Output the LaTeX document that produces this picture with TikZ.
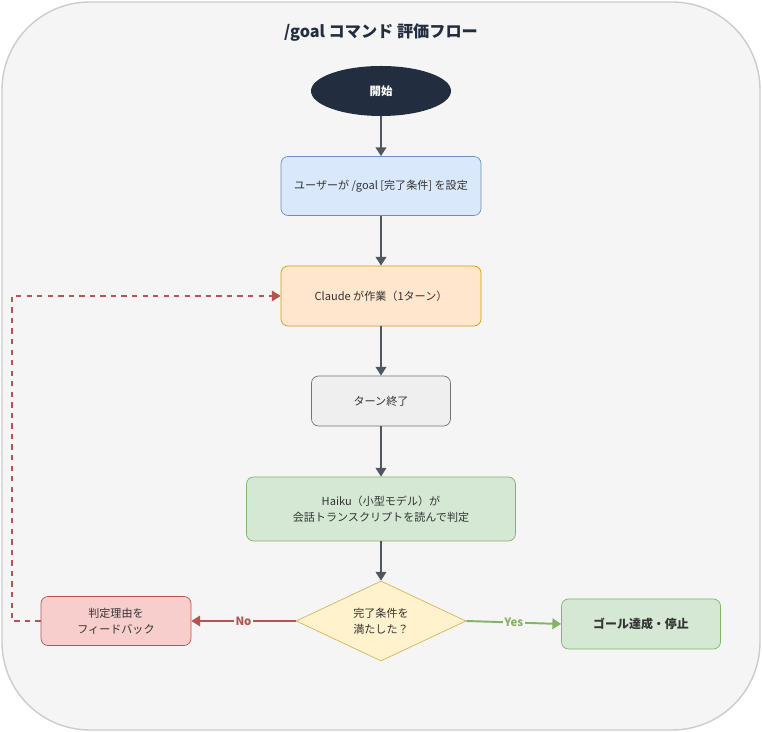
\documentclass[tikz,border=0pt]{standalone}
\usepackage{fontspec}
\setmainfont{Noto Sans CJK JP}
\usetikzlibrary{shapes.geometric,arrows.meta}
\definecolor{bgfill}{HTML}{F5F5F5}
\definecolor{greyf}{HTML}{EFEFEF}
\definecolor{startc}{HTML}{222E3F}
\definecolor{bluef}{HTML}{DAE8FC}\definecolor{blued}{HTML}{6C8EBF}
\definecolor{orangef}{HTML}{FFE6CC}\definecolor{oranged}{HTML}{D79B00}
\definecolor{greenf}{HTML}{D5E8D4}\definecolor{greend}{HTML}{82B366}
\definecolor{yellowf}{HTML}{FFF2CC}\definecolor{yellowd}{HTML}{D6B656}
\definecolor{redf}{HTML}{F8CECC}\definecolor{redd}{HTML}{B85450}
\definecolor{flowc}{HTML}{505761}
\begin{document}
\begin{tikzpicture}[x=0.02cm,y=-0.02cm,
      box/.style={draw,rounded corners=4pt,align=center,font=\fontsize{6.3}{9}\selectfont,
        text=black!80,inner sep=0pt},
      flow/.style={draw=flowc,line width=1.1pt,-{Triangle[length=5pt,width=6pt]}},
      ]
        \useasboundingbox (0,0) rectangle (762,732);
        \path [draw=black!20,fill=bgfill,line width=0.8pt,rounded corners=50pt]
          (2,2) rectangle (760,730);
        \node (title) at (381,33) [font=\fontsize{9.2}{11}\selectfont\bfseries,text=startc]
          {/goal コマンド 評価フロー};

        \node (start) at (381,91) [ellipse,fill=startc,minimum width=140*0.02cm,
          minimum height=50*0.02cm,text=white,font=\fontsize{6.5}{9}\selectfont\bfseries] {開始};
        \node (setgoal) at (381,186) [box,fill=bluef,draw=blued,minimum width=4cm,
          minimum height=1.18cm] {ユーザーが /goal [完了条件] を設定};
        \node (work) at (381,296) [box,fill=orangef,draw=oranged,minimum width=4cm,
          minimum height=1.2cm] {Claude が作業（1ターン）};
        \node (turnend) at (381,401) [box,fill=greyf,draw=black!55,minimum width=2.78cm,
          minimum height=1cm] {ターン終了};
        \node (judge) at (381,509) [box,fill=greenf,draw=greend,minimum width=5.38cm,
          minimum height=1.28cm] {Haiku（小型モデル）が\\会話トランスクリプトを読んで判定};
        \node (check) at (381,621) [diamond,draw=yellowd,fill=yellowf,aspect=2.1,
          minimum width=3.4cm,minimum height=1.6cm,inner sep=0pt,align=center,
          font=\fontsize{6.3}{9}\selectfont,text=black!80] {完了条件を\\満たした？};
        \node (done) at (641,624) [box,fill=greenf,draw=greend,minimum width=3.18cm,
          minimum height=1cm,font=\fontsize{6.8}{9}\selectfont\bfseries] {ゴール達成・停止};
        \node (feedback) at (116,621) [box,fill=redf,draw=redd,minimum width=3cm,
          minimum height=0.98cm] {判定理由を\\フィードバック};

        \draw [flow] (start) -- (setgoal);
        \draw [flow] (setgoal) -- (work);
        \draw [flow] (work) -- (turnend);
        \draw [flow] (turnend) -- (judge);
        \draw [flow] (judge) -- (check);
        \draw [flow,draw=greend] (check.east) -- (done.west)
          node [midway,fill=bgfill,inner sep=1pt,text=greend,
            font=\fontsize{6.5}{8}\selectfont\bfseries] {Yes};
        \draw [flow,draw=redd] (check) -- (feedback)
          node [midway,fill=bgfill,inner sep=1pt,text=redd,
            font=\fontsize{6.5}{8}\selectfont\bfseries] {No};
        \draw [flow,draw=redd,dashed,line width=1pt]
          (feedback.west) -- ++(-29,0) |- (work.west);
      \end{tikzpicture}
\end{document}
